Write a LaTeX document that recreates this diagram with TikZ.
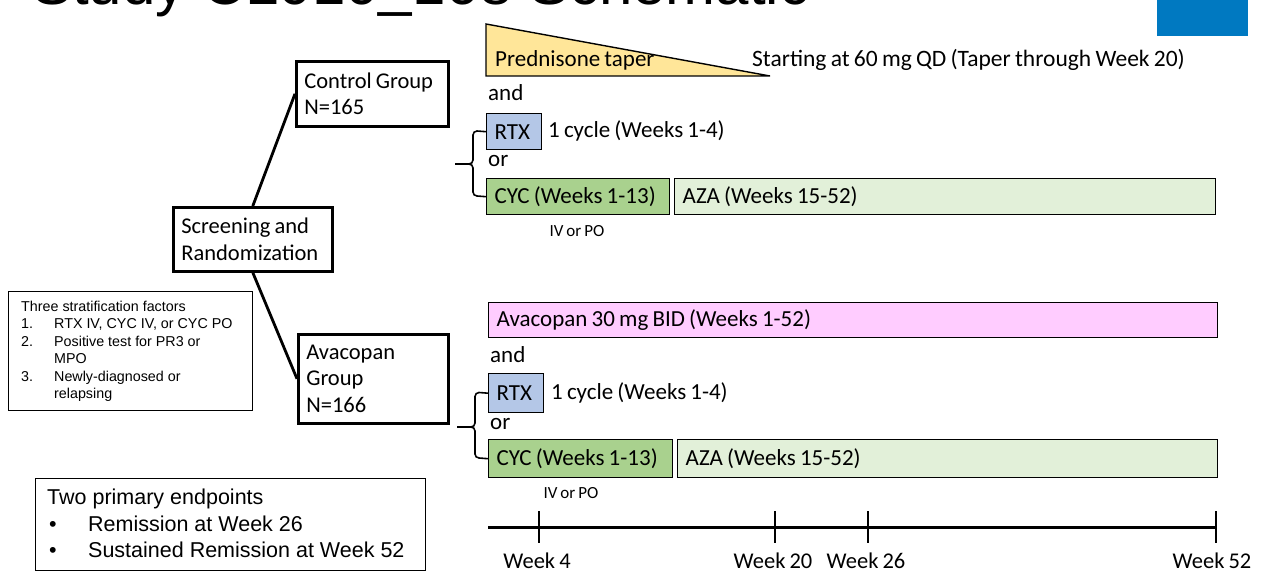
\documentclass[tikz,border=0pt]{standalone}
\usepackage{fontspec}
\setmainfont{Carlito}[WordSpace=0.8]
\newfontfamily\arialfont{Liberation Sans}
\definecolor{predfill}{RGB}{255,230,153}
\definecolor{rtxfill}{RGB}{180,199,231}
\definecolor{cycfill}{RGB}{169,209,142}
\definecolor{azafill}{RGB}{226,240,217}
\definecolor{avafill}{RGB}{255,204,255}
\definecolor{headblue}{RGB}{0,121,193}
\begin{document}
\begin{tikzpicture}[x=1pt,y=-1pt,
  txt/.style={inner sep=0pt, font=\fontsize{23}{26}\selectfont},
  small/.style={inner sep=0pt, font=\fontsize{17}{20}\selectfont},
  groupbox/.style={draw, line width=2.6pt, anchor=north west, align=flush left,
    inner xsep=8pt, inner ysep=0pt, font=\fontsize{22.5}{26.5}\selectfont},
  bar/.style={draw, line width=1.4pt, anchor=north west, align=flush left,
    inner xsep=8pt, inner ysep=0pt, font=\fontsize{23}{26}\selectfont},
  infobox/.style={draw, line width=1.1pt, anchor=north west, inner sep=0pt},
  link/.style={line width=2.8pt},
  brace/.style={line width=1.6pt},
  axis/.style={line width=3pt},
  tick/.style={line width=2.4pt}]
\clip (0,0) rectangle (1262,572);
\fill[white] (0,0) rectangle (1262,572);

% heading, running off the top edge
\node[anchor=base west, inner sep=0pt, font=\arialfont\fontsize{60}{60}\selectfont]
  (title) at (32,5) {Study CL010\_168 Schematic};
\fill[headblue] (1157,-1) rectangle (1248,36);

% arms
\node[groupbox, minimum width=152pt, minimum height=65pt, text width=136pt]
  (ctrl) at (295,60) {Control Group\\N=165};
\node[groupbox, minimum width=159pt, minimum height=64pt, text width=143pt]
  (scr) at (172,206) {Screening and\\Randomization};
\node[groupbox, minimum width=150pt, minimum height=89pt, text width=134pt]
  (ava) at (297,333) {Avacopan\\Group\\N=166};
\draw[link] (scr.north) -- (ctrl.west);
\draw[link] (scr.south) -- (ava.west);

% control arm regimen
\draw[line width=1.4pt, fill=predfill] (486,24) -- (486,76) -- (770,76) -- cycle;
\node[txt, anchor=west] (pred) at (495,60) {Prednisone taper};
\node[txt, anchor=west, font=\fontsize{23.5}{26}\selectfont] (predtxt) at (752,60)
  {Starting at 60 mg QD (Taper through Week 20)};
\node[txt, anchor=west] (and1) at (488,93) {and};
\node[bar, fill=rtxfill, minimum width=55pt, minimum height=36pt, text width=39pt]
  (rtx1) at (486,113) {RTX};
\node[txt, anchor=west] (cyc1txt) at (548,131) {1 cycle (Weeks 1-4)};
\node[txt, anchor=west] (or1) at (488,161) {or};
\node[bar, fill=cycfill, minimum width=183pt, minimum height=36pt, text width=167pt]
  (cyc1) at (486,178) {CYC (Weeks 1-13)};
\node[bar, fill=azafill, minimum width=541pt, minimum height=36pt, text width=525pt]
  (aza1) at (674,178) {AZA (Weeks 15-52)};
\node[small] (iv1) at (577,231) {IV or PO};
\coordinate (stub1) at (455,164);
\draw[brace] (rtx1.west) -- (477,131) to[out=180,in=90] (473,135) -- (473,160)
  to[out=-90,in=0] (469,164) -- (stub1);
\draw[brace] (469,164) to[out=0,in=90] (473,168) -- (473,192)
  to[out=-90,in=180] (477,196) -- (cyc1.west);

% avacopan arm regimen
\node[bar, fill=avafill, minimum width=729pt, minimum height=35pt, text width=713pt]
  (avac) at (488,302) {Avacopan 30 mg BID (Weeks 1-52)};
\node[txt, anchor=west] (and2) at (490,355) {and};
\node[bar, fill=rtxfill, minimum width=55pt, minimum height=39pt, text width=39pt]
  (rtx2) at (488,373) {RTX};
\node[txt, anchor=west] (cyc2txt) at (551,393) {1 cycle (Weeks 1-4)};
\node[txt, anchor=west] (or2) at (490,424) {or};
\node[bar, fill=cycfill, minimum width=184pt, minimum height=38pt, text width=168pt]
  (cyc2) at (488,439) {CYC (Weeks 1-13)};
\node[bar, fill=azafill, minimum width=540pt, minimum height=38pt, text width=524pt]
  (aza2) at (677,439) {AZA (Weeks 15-52)};
\node[small] (iv2) at (571,493) {IV or PO};
\coordinate (stub2) at (457,427);
\draw[brace] (rtx2.west) -- (479,392.5) to[out=180,in=90] (475,396.5) -- (475,423)
  to[out=-90,in=0] (471,427) -- (stub2);
\draw[brace] (471,427) to[out=0,in=90] (475,431) -- (475,454)
  to[out=-90,in=180] (479,458) -- (cyc2.west);

% study timeline
\coordinate (t0) at (488,527);
\coordinate (t1) at (1217,527);
\draw[axis] (t0) -- (t1);
\foreach \x/\lab/\lx in {539/4/537, 775/20/773, 868/26/866, 1216/52/1212}{
  \draw[tick] (\x,511) -- (\x,543);
  \node[txt, font=\fontsize{22.5}{26}\selectfont] (wk\lab) at (\lx,561) {Week \lab};
}

% side notes
\node[infobox, minimum width=244pt, minimum height=119pt] (strat) at (8,291) {};
\node[anchor=north west, inner sep=0pt, align=flush left,
  font=\arialfont\fontsize{14.3}{17.4}\selectfont] (strattxt) at (21,301)
  {Three stratification factors\\
   \makebox[33pt][l]{1.}RTX IV, CYC IV, or CYC PO\\
   \makebox[33pt][l]{2.}Positive test for PR3 or\\
   \makebox[33pt][l]{}MPO\\
   \makebox[33pt][l]{3.}Newly-diagnosed or\\
   \makebox[33pt][l]{}relapsing};
\node[infobox, minimum width=390pt, minimum height=92pt] (endp) at (35,478) {};
\node[anchor=north west, inner sep=0pt, align=flush left,
  font=\arialfont\fontsize{21.5}{26.5}\selectfont] (endptxt) at (47,489)
  {Two primary endpoints\\
   \makebox[41pt][l]{\hspace{2pt}•}Remission at Week 26\\
   \makebox[41pt][l]{\hspace{2pt}•}Sustained Remission at Week 52};
\end{tikzpicture}
\end{document}
